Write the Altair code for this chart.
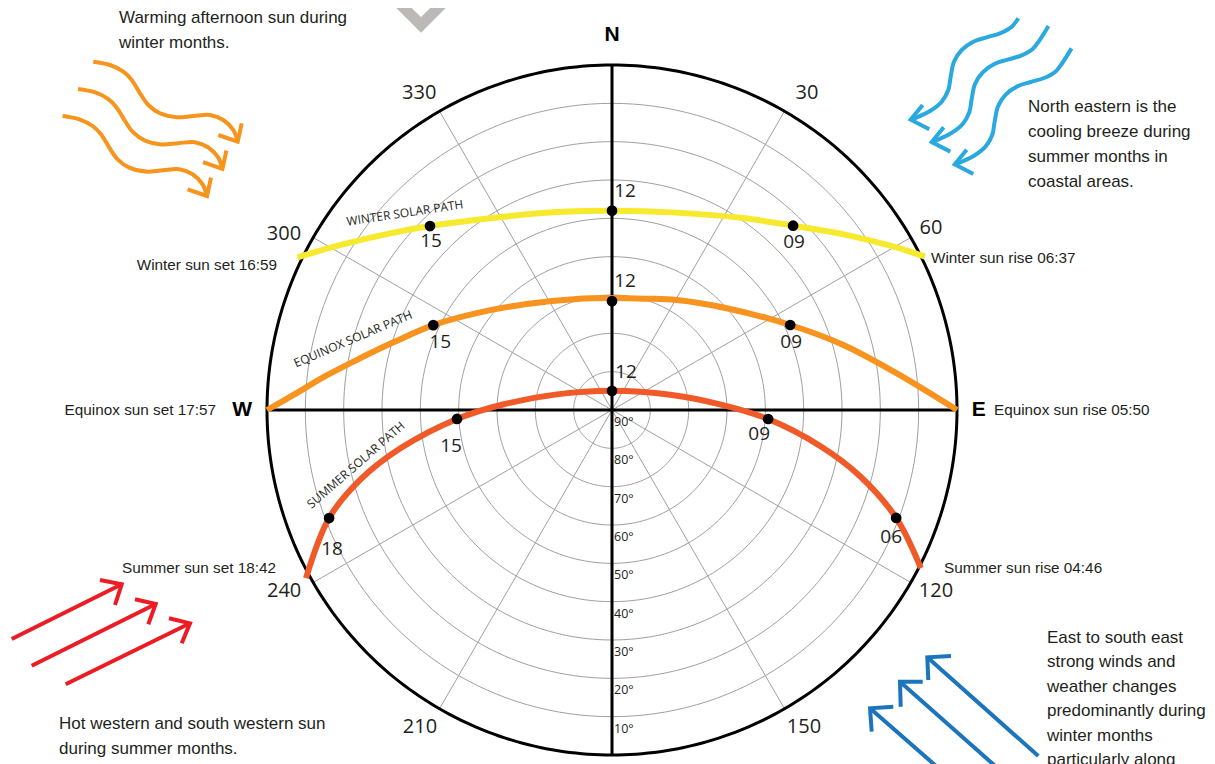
import altair as alt
import pandas as pd

# ---------------- data ----------------
RING_ALTITUDES = [10, 20, 30, 40, 50, 60, 70, 80]
RADIAL_AZIMUTHS = [30, 60, 120, 150, 210, 240, 300, 330]
AXIS_AZIMUTHS = [0, 90]
AZIMUTH_TICKS = [30, 60, 120, 150, 210, 240, 300, 330]
AZIMUTH_TICK_LABELS = ["30", "60", "120", "150", "210", "240", "300", "330"]
ALTITUDE_TICKS = [90, 80, 70, 60, 50, 40, 30, 20, 10]
ALTITUDE_TICK_LABELS = ["90°", "80°", "70°", "60°", "50°", "40°", "30°", "20°", "10°"]
COMPASS_LABELS = ["N", "E", "W"]
COMPASS_AZIMUTHS = [0, 90, 270]

WINTER_AZ = [295.9, 301.2, 308.5, 315.3, 327.5, 344.4, 0.0, 18.2, 34.3, 44.5, 52.7, 59.8, 63.9]
WINTER_ALT = [-1.2, 7.0, 16.0, 22.5, 30.7, 36.4, 38.0, 35.8, 29.4, 22.6, 14.3, 5.2, -0.9]
EQUINOX_AZ = [270.0, 272.7, 276.9, 281.6, 287.2, 295.4, 305.6, 321.2, 342.4, 0.0, 16.5, 30.5, 48.4, 64.5, 74.3, 82.2, 90.0]
EQUINOX_ALT = [0.0, 6.8, 15.0, 22.9, 30.3, 38.4, 46.6, 54.5, 59.6, 60.8, 59.7, 56.7, 50.0, 38.5, 27.3, 15.9, 0.0]
SUMMER_AZ = [241.2, 249.1, 254.5, 259.7, 266.7, 273.2, 285.1, 0.0, 75.3, 87.0, 93.3, 99.8, 104.9, 110.8, 117.1]
SUMMER_ALT = [-1.1, 11.0, 21.8, 33.8, 49.5, 62.0, 74.6, 85.0, 74.3, 61.8, 49.2, 34.9, 23.1, 10.7, -0.5]

TIME_LABELS = ["15", "12", "09", "15", "12", "09", "18", "15", "12", "09", "06"]
TIME_AZ = [315.3, 0.0, 44.5, 295.4, 0.0, 64.5, 249.1, 266.7, 0.0, 93.3, 110.8]
TIME_ALT = [22.5, 38.0, 22.6, 38.4, 61.6, 38.5, 11.0, 49.5, 85.0, 49.2, 10.7]

PATH_NAMES = ["WINTER SOLAR PATH", "EQUINOX SOLAR PATH", "SUMMER SOLAR PATH"]

SUN_SET_LABELS = ["Winter sun set 16:59", "Equinox sun set 17:57", "Summer sun set 18:42"]
SUN_RISE_LABELS = ["Winter sun rise 06:37", "Equinox sun rise 05:50", "Summer sun rise 04:46"]

NOTE_LINES = [
    "Warming afternoon sun during", "winter months.",
    "North eastern is the", "cooling breeze during", "summer months in", "coastal areas.",
    "Hot western and south western sun", "during summer months.",
    "East to south east", "strong winds and", "weather changes", "predominantly during",
    "winter months", "particularly along",
]

# ---------------- layout (page pixels) and styles ----------------
CX, CY = 612.0, 410.0          # zenith position on the page
R_PX = 345.0                   # horizon radius in pixels
PPU = R_PX / 90.0              # pixels per degree of zenith angle
W, H = 1199, 756
X_DOM = [(8 - CX) / PPU, (8 + W - CX) / PPU]
Y_DOM = [(CY - (8 + H)) / PPU, (CY - 8) / PPU]

INK = "#231F20"
GRID = "#A0A0A0"
SEASON_COLORS = ["#F6E92E", "#F7931E", "#F05A28"]
FONT_NUM = "Open Sans"
FONT_NOTE = "Liberation Sans"

TIME_DX = [1, 13, 1, 7, 13, 1, 3, -6, 14, -9, -5]
TIME_DY = [15, -20, 16, 17, -20, 17, 31, 27, -19, 15, 19]
PATH_NAME_PX = [405, 353, 356]
PATH_NAME_PY = [213, 339, 465]
PATH_NAME_ROT = [351.5, 337, 319]
AZ_LABEL_ANGLE = [31.6, 60.3, 119.2, 148.8, 211.2, 241.1, 298.2, 328.7]
AZ_LABEL_RADIUS = [97.1, 95.8, 96.8, 96.7, 96.7, 97.7, 97.1, 96.8]
COMPASS_RADIUS = [97.8, 95.7, 96.5]
SET_PX = [277, 216, 276]
SET_PY = [265, 410, 568]
RISE_PX = [931, 994, 944]
RISE_PY = [258, 410, 568]
NOTE_PX = [119, 119, 1028, 1028, 1028, 1028, 59, 59, 1047, 1047, 1047, 1047, 1047, 1047]
NOTE_PY = [18, 43, 107, 132, 157, 182, 724, 749, 638, 662, 687, 711, 736, 760]

# decorative arrows (page pixel outlines)
ORANGE_WAVE_PX = [93.3, 110, 123.3, 131.7, 140, 148.3, 160, 176.7, 193.3, 210, 223.3, 233.3, 237.3]
ORANGE_WAVE_PY = [61.7, 65, 71.7, 80, 93.3, 105, 113.3, 117.3, 116, 115, 120, 130, 140]
ORANGE_HEAD_PX = [241.7, 237.7, 218.3]
ORANGE_HEAD_PY = [123.3, 141.7, 135]
ORANGE_SHIFT = [(0, 0), (-15.3, 27.2), (-30.7, 54.3)]

BLUE_WAVE_PX = [1027.5, 1018.3, 1011.7, 1000, 986.7, 973.3, 961.7, 954, 950.7, 948.3, 941.7, 930, 912.3]
BLUE_WAVE_PY = [3.7, 18.3, 26.7, 33.3, 37.3, 41.7, 50, 61.7, 76.7, 90, 101.7, 111, 119.3]
BLUE_HEAD_PX = [922.7, 910.7, 929.3]
BLUE_HEAD_PY = [105, 119.7, 129.3]
BLUE_SHIFT = [(0, 0), (21, 22.3), (44, 44.7)]
BLUE_START = [1, 0, 0]

RED_TAIL = [(11.7, 639), (31.7, 665.7), (65.7, 684.3)]
RED_TIP = [(121.7, 584.3), (155.7, 604), (190, 623.3)]
RED_ARM1 = [(100, 580), (135, 599.3), (169, 618.3)]
RED_ARM2 = [(115, 605), (148.3, 624.3), (181.7, 643.3)]

STEEL_TAIL = [(1038.3, 756), (1011, 780), (983, 807)]
STEEL_TIP = [(927.3, 657.3), (900, 681.7), (870, 708.3)]
STEEL_ARM1 = [(951, 656), (922.7, 681.7), (893.3, 706.7)]
STEEL_ARM2 = [(928.3, 680), (900.7, 706.7), (871.7, 731.7)]

CHEVRON_PX = [378, 421, 464]
CHEVRON_PY = [-18, 25, -18]

# ---------------- helpers ----------------
xs = alt.Scale(domain=X_DOM, nice=False, zero=False)
ys = alt.Scale(domain=Y_DOM, nice=False, zero=False)
X = alt.X("x:Q", scale=xs, axis=None)
Y = alt.Y("y:Q", scale=ys, axis=None)

POLAR_X = "(90 - datum.alt) * sin(datum.az * PI / 180)"
POLAR_Y = "(90 - datum.alt) * cos(datum.az * PI / 180)"
PX_X = f"(datum.px - {CX}) / {PPU}"
PX_Y = f"({CY} - datum.py) / {PPU}"

# ---------------- grid ----------------
rings = alt.Chart(pd.DataFrame({"alt": RING_ALTITUDES})).transform_calculate(
    az="sequence(0, 361, 2)"
).transform_flatten(["az"]).transform_calculate(x=POLAR_X, y=POLAR_Y).mark_line(
    color=GRID, strokeWidth=1
).encode(x=X, y=Y, detail="alt:N", order="az:Q")

radials = alt.Chart(pd.DataFrame({"az": RADIAL_AZIMUTHS})).transform_calculate(
    x0="0", y0="0",
    x="90 * sin(datum.az * PI / 180)", y="90 * cos(datum.az * PI / 180)",
).mark_rule(color=GRID, strokeWidth=1).encode(
    x=alt.X("x0:Q", scale=xs, axis=None), y=alt.Y("y0:Q", scale=ys, axis=None),
    x2="x:Q", y2="y:Q",
)

outer = alt.Chart(pd.DataFrame({"alt": [0]})).transform_calculate(
    az="sequence(0, 361, 1)"
).transform_flatten(["az"]).transform_calculate(x=POLAR_X, y=POLAR_Y).mark_line(
    color="black", strokeWidth=3
).encode(x=X, y=Y, detail="alt:N", order="az:Q")

axes = alt.Chart(pd.DataFrame({"az": AXIS_AZIMUTHS})).transform_calculate(
    x="90 * sin(datum.az * PI / 180)", y="90 * cos(datum.az * PI / 180)",
    xa="-90 * sin(datum.az * PI / 180)", ya="-90 * cos(datum.az * PI / 180)",
).mark_rule(color="black", strokeWidth=3).encode(
    x=X, y=Y, x2="xa:Q", y2="ya:Q"
)

# ---------------- sun paths ----------------
rows = []
for season, azs, alts, col in [
    ("winter", WINTER_AZ, WINTER_ALT, SEASON_COLORS[0]),
    ("equinox", EQUINOX_AZ, EQUINOX_ALT, SEASON_COLORS[1]),
    ("summer", SUMMER_AZ, SUMMER_ALT, SEASON_COLORS[2]),
]:
    for i, (a, h) in enumerate(zip(azs, alts)):
        rows.append({"season": season, "i": i, "az": a, "alt": h, "color": col})
paths_df = pd.DataFrame(rows)

paths = alt.Chart(paths_df).transform_calculate(x=POLAR_X, y=POLAR_Y).mark_line(
    strokeWidth=6, interpolate="catmull-rom"
).encode(x=X, y=Y, detail="season:N", order="i:Q", color=alt.Color("color:N", scale=None))

times_df = pd.DataFrame({"label": TIME_LABELS, "az": TIME_AZ, "alt": TIME_ALT,
                         "dx": TIME_DX, "dy": TIME_DY})
dots = alt.Chart(times_df).transform_calculate(x=POLAR_X, y=POLAR_Y).mark_circle(
    size=115, color="black", opacity=1
).encode(x=X, y=Y)

time_text = alt.Chart(times_df).transform_calculate(
    x=f"{POLAR_X} + datum.dx / {PPU}", y=f"{POLAR_Y} - datum.dy / {PPU}"
).mark_text(font=FONT_NUM, fontSize=19, color=INK).encode(x=X, y=Y, text="label:N")

names_df = pd.DataFrame({"label": PATH_NAMES, "px": PATH_NAME_PX, "py": PATH_NAME_PY,
                         "rot": PATH_NAME_ROT})
path_names = alt.Chart(names_df).transform_calculate(x=PX_X, y=PX_Y).mark_text(
    font=FONT_NUM, fontSize=12, color=INK
).encode(x=X, y=Y, text="label:N", angle=alt.Angle("rot:Q", scale=None))

# ---------------- axis labels ----------------
alt_df = pd.DataFrame({"alt": ALTITUDE_TICKS, "label": ALTITUDE_TICK_LABELS})
alt_labels = alt.Chart(alt_df).transform_calculate(
    x=f"2 / {PPU}", y=f"-(90 - datum.alt) - 12 / {PPU}"
).mark_text(font=FONT_NUM, fontSize=12.5, color=INK, align="left").encode(
    x=X, y=Y, text="label:N"
)

az_df = pd.DataFrame({"tick": AZIMUTH_TICKS, "label": AZIMUTH_TICK_LABELS,
                      "ang": AZ_LABEL_ANGLE, "rad": AZ_LABEL_RADIUS})
az_labels = alt.Chart(az_df).transform_calculate(
    x="datum.rad * sin(datum.ang * PI / 180)",
    y="datum.rad * cos(datum.ang * PI / 180)",
).mark_text(font=FONT_NUM, fontSize=20, color=INK).encode(x=X, y=Y, text="label:N")

comp_df = pd.DataFrame({"az": COMPASS_AZIMUTHS, "label": COMPASS_LABELS, "rad": COMPASS_RADIUS})
compass = alt.Chart(comp_df).transform_calculate(
    x="datum.rad * sin(datum.az * PI / 180)", y="datum.rad * cos(datum.az * PI / 180)"
).mark_text(font="Liberation Sans", fontWeight="bold",
            fontSize=21, color="black").encode(x=X, y=Y, text="label:N")

# ---------------- sunrise / sunset labels & notes ----------------
set_df = pd.DataFrame({"label": SUN_SET_LABELS, "px": SET_PX, "py": SET_PY})
rise_df = pd.DataFrame({"label": SUN_RISE_LABELS, "px": RISE_PX, "py": RISE_PY})
sets = alt.Chart(set_df).transform_calculate(x=PX_X, y=PX_Y).mark_text(
    font=FONT_NOTE, fontSize=15.3, color=INK, align="right"
).encode(x=X, y=Y, text="label:N")
rises = alt.Chart(rise_df).transform_calculate(x=PX_X, y=PX_Y).mark_text(
    font=FONT_NOTE, fontSize=15.3, color=INK, align="left"
).encode(x=X, y=Y, text="label:N")

notes_df = pd.DataFrame({"label": NOTE_LINES, "px": NOTE_PX, "py": NOTE_PY})
notes = alt.Chart(notes_df).transform_calculate(x=PX_X, y=PX_Y).mark_text(
    font=FONT_NOTE, fontSize=17, color=INK, align="left"
).encode(x=X, y=Y, text="label:N")

# ---------------- decorative wind / sun arrows ----------------
shaft_rows, head_rows = [], []
g = 0
for k, (sx, sy) in enumerate(ORANGE_SHIFT):
    for i, (px, py) in enumerate(zip(ORANGE_WAVE_PX, ORANGE_WAVE_PY)):
        shaft_rows.append({"g": g, "i": i, "px": px + sx, "py": py + sy, "color": "#F7941D"})
    for i, (px, py) in enumerate(zip(ORANGE_HEAD_PX, ORANGE_HEAD_PY)):
        head_rows.append({"g": g, "i": i, "px": px + sx, "py": py + sy, "color": "#F7941D"})
    g += 1
for k, (sx, sy) in enumerate(BLUE_SHIFT):
    for i, (px, py) in enumerate(zip(BLUE_WAVE_PX, BLUE_WAVE_PY)):
        if i < BLUE_START[k]:
            continue
        shaft_rows.append({"g": g, "i": i, "px": px + sx, "py": py + sy, "color": "#29A9E0"})
    for i, (px, py) in enumerate(zip(BLUE_HEAD_PX, BLUE_HEAD_PY)):
        head_rows.append({"g": g, "i": i, "px": px + sx, "py": py + sy, "color": "#29A9E0"})
    g += 1
for tails, tips, a1s, a2s, col in [
    (RED_TAIL, RED_TIP, RED_ARM1, RED_ARM2, "#ED1C24"),
    (STEEL_TAIL, STEEL_TIP, STEEL_ARM1, STEEL_ARM2, "#1C75BC"),
]:
    for tail, tip, a1, a2 in zip(tails, tips, a1s, a2s):
        shaft_rows.append({"g": g, "i": 0, "px": tail[0], "py": tail[1], "color": col})
        shaft_rows.append({"g": g, "i": 1, "px": tip[0], "py": tip[1], "color": col})
        for i, p in enumerate([a1, tip, a2]):
            head_rows.append({"g": g, "i": i, "px": p[0], "py": p[1], "color": col})
        g += 1

shafts = alt.Chart(pd.DataFrame(shaft_rows)).transform_calculate(x=PX_X, y=PX_Y).mark_line(
    strokeWidth=4, interpolate="catmull-rom"
).encode(x=X, y=Y, detail="g:N", order="i:Q", color=alt.Color("color:N", scale=None))

heads = alt.Chart(pd.DataFrame(head_rows)).transform_calculate(x=PX_X, y=PX_Y).mark_line(
    strokeWidth=4, strokeJoin="miter"
).encode(x=X, y=Y, detail="g:N", order="i:Q", color=alt.Color("color:N", scale=None))

chevron = alt.Chart(pd.DataFrame({"px": CHEVRON_PX, "py": CHEVRON_PY, "i": [0, 1, 2]})).transform_calculate(
    x=PX_X, y=PX_Y
).mark_line(strokeWidth=11, color="#BDB9B6", strokeJoin="miter").encode(x=X, y=Y, order="i:Q")

chart = alt.layer(
    chevron, rings, radials, outer, axes, paths, dots, time_text, path_names,
    alt_labels, az_labels, compass, sets, rises, notes, shafts, heads,
).properties(
    width=W, height=H, padding=0, background="white",
    autosize=alt.AutoSizeParams(type="none"),
).configure_view(stroke=None)

chart.save("out.html", embed_options={"renderer": "svg", "actions": False})
